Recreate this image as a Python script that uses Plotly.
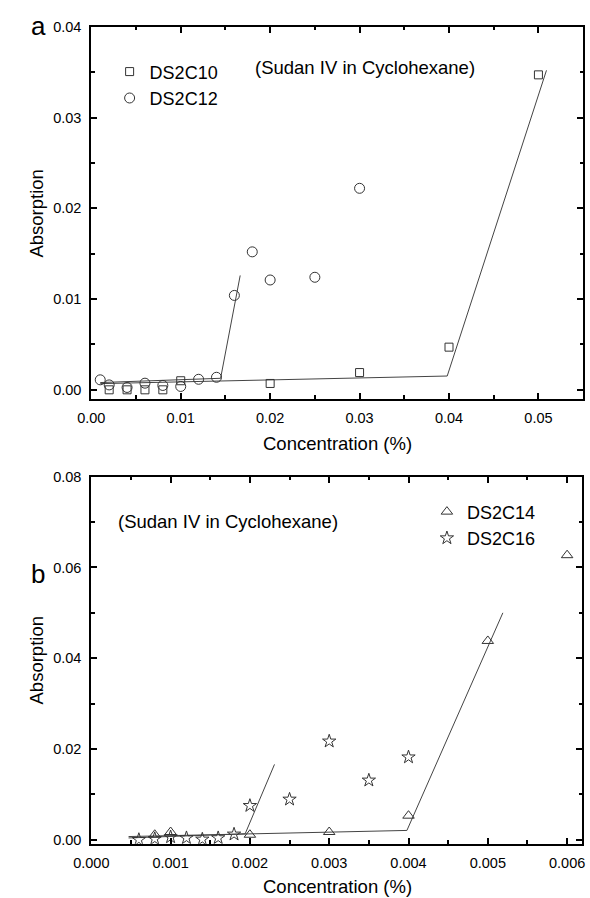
import plotly.graph_objects as go

# ---------------- data: panel a ----------------
c10_x = [0.002, 0.004, 0.006, 0.008, 0.010, 0.020, 0.030, 0.040, 0.050]
c10_y = [0.0000, 0.0000, 0.0000, 0.0000, 0.0010, 0.0007, 0.0019, 0.0047, 0.0347]
c12_x = [0.001, 0.002, 0.004, 0.006, 0.008, 0.010, 0.012, 0.014, 0.016, 0.018, 0.020, 0.025, 0.030]
c12_y = [0.0011, 0.00054, 0.00026, 0.00073, 0.00048, 0.00037, 0.00116, 0.00138, 0.0104, 0.0152, 0.0121, 0.0124, 0.0222]
fit10_x = [0.001, 0.0398, 0.0509]
fit10_y = [0.00068, 0.00152, 0.0352]
fit12_x = [0.001, 0.01446, 0.01665]
fit12_y = [0.0008, 0.00127, 0.0126]

# ---------------- data: panel b ----------------
c14_x = [0.0008, 0.0010, 0.0020, 0.0030, 0.0040, 0.0050, 0.0060]
c14_y = [0.0011, 0.0017, 0.0011, 0.0017, 0.0053, 0.0438, 0.0627]
c16_x = [0.0006, 0.0008, 0.0010, 0.0012, 0.0014, 0.0016, 0.0018, 0.0020, 0.0025, 0.0030, 0.0035, 0.0040]
c16_y = [0.0000, 0.0002, 0.0006, 0.0004, 0.0001, 0.0004, 0.0012, 0.0075, 0.0089, 0.0217, 0.0131, 0.0182]
fit14_x = [0.00047, 0.00398, 0.00519]
fit14_y = [0.0007, 0.00205, 0.0500]
fit16_x = [0.00047, 0.00194, 0.00231]
fit16_y = [0.0004, 0.0013, 0.0166]

W, H = 590, 898
FONT = "Liberation Sans, Arial, sans-serif"
MK = "#333333"
LN = "#444444"

def px_x(p):
    return p / W

def px_y(p):
    return 1 - p / H

fig = go.Figure()

def pts(x, y, name, sym, size, xa, ya, legend):
    fig.add_trace(go.Scatter(
        x=x, y=y, mode="markers", name=name, xaxis=xa, yaxis=ya, legend=legend,
        marker=dict(symbol=sym, size=size, color=MK, line=dict(width=1, color=MK)),
    ))

def fit(x, y, xa, ya):
    fig.add_trace(go.Scatter(
        x=x, y=y, mode="lines", showlegend=False, xaxis=xa, yaxis=ya,
        line=dict(color=LN, width=1), hoverinfo="skip",
    ))

fit(fit10_x, fit10_y, "x", "y")
fit(fit12_x, fit12_y, "x", "y")
pts(c10_x, c10_y, "DS2C10", "square-open", 8, "x", "y", "legend")
pts(c12_x, c12_y, "DS2C12", "circle-open", 10, "x", "y", "legend")

fit(fit14_x, fit14_y, "x2", "y2")
fit(fit16_x, fit16_y, "x2", "y2")
pts(c14_x, c14_y, "DS2C14", "triangle-up-open", 10, "x2", "y2", "legend2")
pts(c16_x, c16_y, "DS2C16", "star-open", 10, "x2", "y2", "legend2")

tickfont = dict(family=FONT, size=14.5, color="black")
common = dict(
    showline=True, linewidth=2, linecolor="black", mirror="ticks",
    ticks="inside", ticklen=6, tickwidth=1.5, tickcolor="black",
    showgrid=False, zeroline=False, tickfont=tickfont, ticklabelstandoff=5,
)

fig.update_layout(
    width=W, height=H, margin=dict(l=0, r=0, t=0, b=0),
    paper_bgcolor="white", plot_bgcolor="white",
    font=dict(family=FONT, color="black"),
    xaxis=dict(domain=[px_x(76), px_x(586)], range=[0, 0.055], dtick=0.01, tickformat=".2f",
               anchor="y", minor=dict(ticks="inside", dtick=0.005, ticklen=3.5, tickwidth=1.5, tickcolor="black"), **common),
    yaxis=dict(domain=[px_y(396), px_y(19)], range=[-0.00098, 0.04], dtick=0.01, tickformat=".2f",
               anchor="x", minor=dict(ticks="inside", dtick=0.005, ticklen=3.5, tickwidth=1.5, tickcolor="black"), **common),
    xaxis2=dict(domain=[px_x(76), px_x(585)], range=[0, 0.00619], dtick=0.001, tickformat=".3f",
                anchor="y2", minor=dict(ticks="inside", dtick=0.0005, ticklen=3.5, tickwidth=1.5, tickcolor="black"), **common),
    yaxis2=dict(domain=[px_y(847), px_y(475)], range=[-0.00087, 0.08], dtick=0.02, tickformat=".2f",
                anchor="x2", minor=dict(ticks="inside", dtick=0.01, ticklen=3.5, tickwidth=1.5, tickcolor="black"), **common),
    legend=dict(x=px_x(95), y=px_y(46), xanchor="left", yanchor="top",
                font=dict(family=FONT, size=18, color="black"), bgcolor="rgba(0,0,0,0)",
                tracegroupgap=0, itemsizing="trace"),
    legend2=dict(x=px_x(424), y=px_y(492), xanchor="left", yanchor="top",
                 font=dict(family=FONT, size=18, color="black"), bgcolor="rgba(0,0,0,0)",
                 tracegroupgap=0, itemsizing="trace"),
    showlegend=True,
)

ann_font = dict(family=FONT, size=18.5, color="black")
annotations = [
    dict(text="Concentration (%)", x=px_x(331), y=px_y(441), xanchor="center", yanchor="middle", font=ann_font),
    dict(text="Concentration (%)", x=px_x(331), y=px_y(890), xanchor="center", yanchor="middle", font=ann_font),
    dict(text="Absorption", x=px_x(19), y=px_y(208), xanchor="center", yanchor="middle", textangle=-90, font=ann_font),
    dict(text="Absorption", x=px_x(19), y=px_y(661), xanchor="center", yanchor="middle", textangle=-90, font=ann_font),
    dict(text="(Sudan IV in Cyclohexane)", x=px_x(244), y=px_y(60), xanchor="left", yanchor="middle", font=ann_font),
    dict(text="(Sudan IV in Cyclohexane)", x=px_x(102), y=px_y(520), xanchor="left", yanchor="middle", font=ann_font),
    dict(text="a", x=px_x(11), y=px_y(18), xanchor="left", yanchor="middle", font=dict(family=FONT, size=26, color="black")),
    dict(text="b", x=px_x(11), y=px_y(574), xanchor="left", yanchor="middle", font=dict(family=FONT, size=26, color="black")),
]
for a in annotations:
    a.update(xref="paper", yref="paper", showarrow=False)
fig.update_layout(annotations=annotations)

fig.write_html("out.html")
